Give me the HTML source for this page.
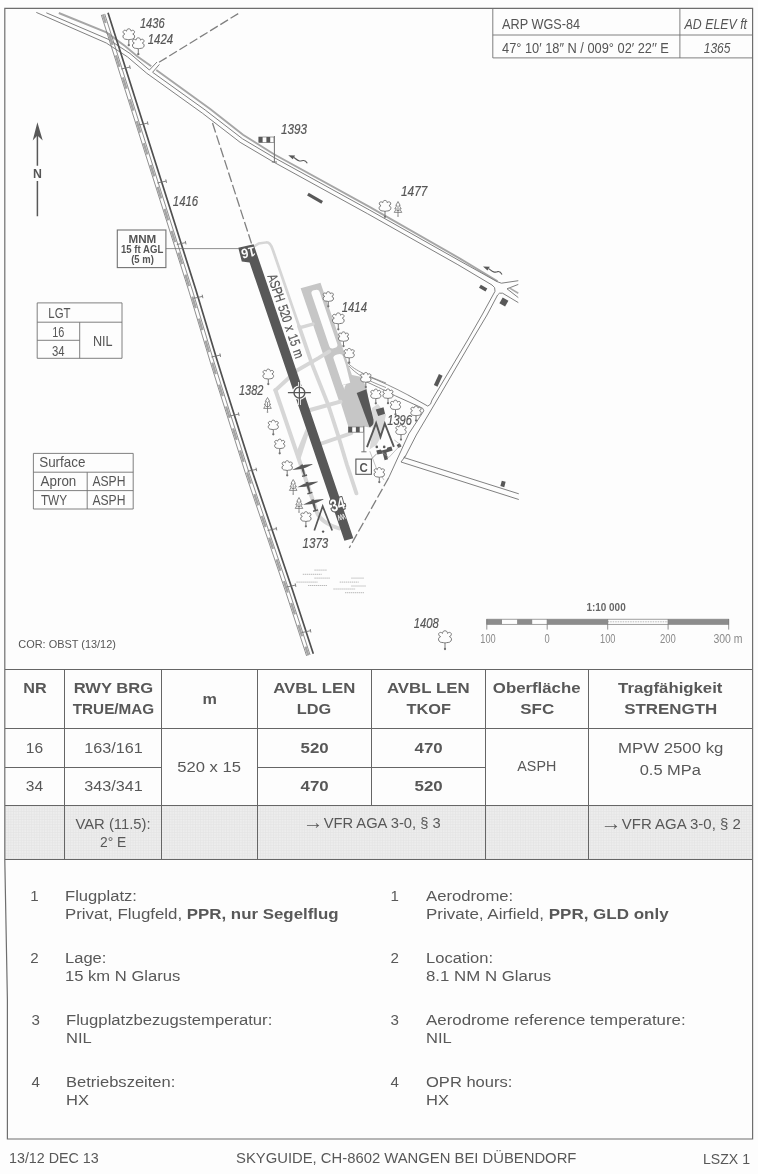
<!DOCTYPE html>
<html lang="de"><head><meta charset="utf-8"><title>LSZX Schänis – Aerodrome chart</title>
<style>
*{box-sizing:border-box;margin:0;padding:0}
html,body{width:758px;height:1174px;background:#fdfdfd;overflow:hidden}
body{font-family:"Liberation Sans",sans-serif;color:#585858;position:relative}
#page{position:absolute;left:0;top:0;width:758px;height:1174px;overflow:hidden;background:#fdfdfd;filter:grayscale(1) blur(0.4px)}
svg#art{position:absolute;left:0;top:0;width:758px;height:1174px}
svg text{font-family:"Liberation Sans",sans-serif}
table.rwy{position:absolute;left:5px;top:669.5px;border-collapse:collapse;table-layout:fixed;width:747.5px;font-size:15.2px;text-align:center}
table.rwy td,table.rwy th{padding:0;vertical-align:middle;font-weight:normal;line-height:20.6px;overflow:visible;white-space:nowrap}
table.rwy th b,table.rwy td b{font-weight:bold}
.sx{display:inline-block;transform-origin:50% 50%;white-space:nowrap}
.note{font-size:13.8px}
table.rwy tr.r34 td{padding-bottom:1.4px}
.ar{font-size:140%;line-height:0;position:relative;top:1px;margin-right:-3.5px}
.list{position:absolute;left:0;top:0;font-size:15.1px;line-height:18.8px}
.list .it{position:absolute;white-space:nowrap}
.list .it .n{position:absolute;left:0;top:0}
.list .it .tx{position:absolute;top:0;white-space:nowrap}
.list .it .tx .sx{transform-origin:0 50%}
.foot{position:absolute;font-size:14.3px;line-height:16px;white-space:nowrap}
.foot .sx{transform-origin:0 50%}
</style></head><body>
<div id="page">
<svg id="art" viewBox="0 0 758 1174" width="758" height="1174">
<defs>
<pattern id="hatch" width="2.6" height="2.6" patternUnits="userSpaceOnUse"><path d="M0 0.5H2.6M0.5 0V2.6" stroke="#e2e2e6" stroke-width="0.6"/></pattern>
</defs>

<polyline points="58.8,13 106.5,32.4 125,46 137.5,56.5 151.3,66.3" fill="none" stroke="#a6a6a6" stroke-width="1.9"/>
<polyline points="156.3,70 210.2,108.9 243,134.8 274,154.3 369.5,206.9 460,258.6 497.6,281.3" fill="none" stroke="#a6a6a6" stroke-width="1.9"/>
<polyline points="46.3,12.8 108.3,39.3 130.0,53.5 149.4,70.0" fill="none" stroke="#727272" stroke-width="0.9"/>
<polyline points="152.6,72.3 205.2,110.0 242.5,138.8 274.0,157.5 369.5,210.0 460.0,261.0 497.0,281.6 501.4,283.2 518.3,280.7" fill="none" stroke="#727272" stroke-width="0.9" stroke-linejoin="round"/>
<polyline points="36.3,12.4 106.3,43.0 127.5,56.9 146.8,73.3 202.7,113.4 240.1,142.3 271.9,161.1 367.5,213.7 457.9,264.7 492,285 494.6,287.6 495,291.3 482,315 467.7,340 432,400 430.5,404.1 427.8,406.1 408,395" fill="none" stroke="#727272" stroke-width="0.9" stroke-linejoin="round"/>
<path d="M149.4,70 L157,62 M152.6,72.3 L159.4,64.4" stroke="#727272" stroke-width="0.9" fill="none"/>
<path d="M159,62.3 L240,12.5" stroke="#808080" stroke-width="1.3" stroke-dasharray="9 3" fill="none"/>
<path d="M507,288.8 L518.3,284.4 M507,288.8 L518.3,297.6" stroke="#727272" stroke-width="0.9" fill="none" stroke-linejoin="round"/>
<path d="M508.9,287.6 L518.3,293.2" stroke="#a9a9a9" stroke-width="1.6" fill="none"/>
<polyline points="518.3,302.6 502.6,293.2 499.5,293.2 497.6,295 487,315 472.1,340 440,395 416.3,435 405.5,456 401,462" fill="none" stroke="#727272" stroke-width="0.9" stroke-linejoin="round"/>
<polyline points="395.3,395.8 419.8,406.9 422.8,408.4 423.8,410.8 408.8,433.8 388.8,477.5" fill="none" stroke="#727272" stroke-width="0.9" stroke-linejoin="round"/>
<path d="M388.8,477.5 L349.2,548" stroke="#808080" stroke-width="1.3" stroke-dasharray="10 3" fill="none"/>
<path d="M405.5,456 L403.8,457.5 L518.8,493.8 M401,462 L518.8,499.5" stroke="#727272" stroke-width="0.9" fill="none" stroke-linejoin="round"/>
<path d="M408,395 C395,388 380,381 367,376" stroke="#727272" stroke-width="0.8" fill="none"/>
<path d="M395.3,395.8 C385,390.5 372,384 362,380" stroke="#727272" stroke-width="0.8" fill="none"/>
<path d="M346.7,361.7 C352,368 360,373 386,383 M349,366 C356,374 366,380 386,387.6" stroke="#727272" stroke-width="0.7" fill="none"/>
<path d="M212.5,123 L251.5,243.5" stroke="#808080" stroke-width="1.3" stroke-dasharray="10 3" fill="none"/>
<rect x="-8.2" y="-1.6" width="16.5" height="3.2" fill="#585858" transform="translate(315.0,198.2) rotate(30)"/>
<rect x="-3.8" y="-1.8" width="7.5" height="3.6" fill="#585858" transform="translate(483.2,288.2) rotate(30)"/>
<rect x="-3.3" y="-3.3" width="6.6" height="6.6" fill="#585858" transform="translate(503.9,302.0) rotate(30)"/>
<rect x="-6.0" y="-2.0" width="12" height="4" fill="#585858" transform="translate(438.2,380.4) rotate(-65)"/>
<rect x="-2.0" y="-2.8" width="4" height="5.5" fill="#585858" transform="translate(503.0,484.0) rotate(15)"/>
<rect x="-1.8" y="-1.8" width="3.6" height="3.6" fill="#585858" transform="translate(399.1,445.6) rotate(-30)"/>
<polyline points="101.3,14.9 189.2,292.1 210.3,362.1 218.1,387.1 245.2,472.5 285.8,592.2 306.6,655.9" fill="none" stroke="#727272" stroke-width="0.8"/>
<polyline points="104.7,13.9 192.6,291.0 213.7,361.0 221.5,386.1 248.6,471.4 289.2,591.1 310.0,654.8" fill="none" stroke="#727272" stroke-width="0.8"/>
<polyline points="102.9,14.4 190.8,291.6 211.9,361.6 219.7,386.6 246.9,472.0 287.5,591.7 308.3,655.3" fill="none" stroke="#a4a4a4" stroke-width="2.3" stroke-dasharray="12 11" stroke-dashoffset="3"/>
<polyline points="108.0,12.8 195.9,290.0 217.0,360.0 224.8,385.0 251.9,470.3 292.5,590.0 313.3,653.7" fill="none" stroke="#505050" stroke-width="1.7"/>
<path d="M121.1,69.0 L129.9,67.1 M129.6,65.4 L130.3,68.9" stroke="#727272" stroke-width="0.9" fill="none"/>
<path d="M138.9,125.0 L147.7,123.1 M147.4,121.4 L148.1,124.9" stroke="#727272" stroke-width="0.9" fill="none"/>
<path d="M157.3,183.0 L166.1,181.1 M165.8,179.4 L166.5,182.9" stroke="#727272" stroke-width="0.9" fill="none"/>
<path d="M176.8,244.5 L185.6,242.6 M185.3,240.9 L186.0,244.4" stroke="#727272" stroke-width="0.9" fill="none"/>
<path d="M193.7,298.3 L202.5,296.4 M202.2,294.7 L202.9,298.2" stroke="#727272" stroke-width="0.9" fill="none"/>
<path d="M211.4,357.0 L220.2,355.1 M219.9,353.4 L220.6,356.9" stroke="#727272" stroke-width="0.9" fill="none"/>
<path d="M229.9,416.0 L238.7,414.1 M238.4,412.4 L239.1,415.9" stroke="#727272" stroke-width="0.9" fill="none"/>
<path d="M247.5,471.3 L256.3,469.4 M256.0,467.7 L256.7,471.2" stroke="#727272" stroke-width="0.9" fill="none"/>
<path d="M267.6,530.5 L276.4,528.6 M276.1,526.9 L276.8,530.4" stroke="#727272" stroke-width="0.9" fill="none"/>
<path d="M286.7,587.0 L295.5,585.1 M295.2,583.4 L295.9,586.9" stroke="#727272" stroke-width="0.9" fill="none"/>
<path d="M301.7,632.6 L310.5,630.7 M310.2,629.0 L310.9,632.5" stroke="#727272" stroke-width="0.9" fill="none"/>
<polygon points="372,408 378,404 386,414.5 381.5,436 376.5,445 369.5,449.5 372.5,431" fill="#dadade"/>
<g transform="matrix(0.3251 0.9563 1.0634 -0.2924 249.05 245.9)" fill="none" stroke-linecap="round" stroke-linejoin="round">
<polygon points="160,41 150,50 155,58.5 168,59.5 206,52 203,46 199,32.6 175.6,33" fill="#c6c6ca" stroke="none"/>
<path d="M54,32 H172 V40 H158 Q160,48 150,50.7 H54 Z" fill="#c6c6ca" stroke="none"/>
<rect x="59.5" y="39.7" width="60.5" height="7.5" rx="3" ry="3" fill="#fdfdfd" stroke="none"/>
<path d="M130,39.7 H157.5 L157.5,47 L139,48.5 H130 Q127,48.5 127,44 Q127,39.7 130,39.7 Z" fill="#fdfdfd" stroke="none"/>
<path d="M1.5,5.2 L0.3,9 L1.2,16 Q2,19.3 10,19.3 L92,19.5" stroke="#d6d6da" stroke-width="2.5"/>
<path d="M90,19.5 L130,19.6 L172,21.6 L205,21.2 L235,20.2 L265,20" stroke="#d6d6da" stroke-width="3.5"/>
<path d="M91.5,20 V32" stroke="#d6d6da" stroke-width="3.4"/>
<path d="M145,-19.5 L131.6,5 L125.5,27 L122,38" stroke="#d6d6da" stroke-width="3.8"/>
<path d="M150,-19.5 Q144,-19.5 145,-19.5 L273,-19.5 Q284,-19 294,-5" stroke="#d6d6da" stroke-width="3.7"/>
<path d="M209.5,-19.5 L219.5,-19.5 L196.5,-4.4 L189.5,-4.4 Z" fill="#d6d6da" stroke="none"/>
<path d="M173,4.5 V33" stroke="#d6d6da" stroke-width="4"/>
<path d="M208,4.5 L206,33" stroke="#d6d6da" stroke-width="3.9"/>
<path d="M-1,-9.8 L-0.5,4.4 L307,4.2 L307,-4.2 L16,-4.4 L13,-10.8 Z" fill="#585858" stroke="none"/>
<path d="M286,-3 L281,-2 L286,-1 M286,-0.8 L281,0.2 L286,1.2 M286,1.4 L281,2.4 L286,3.4" stroke="#f4f4f4" stroke-width="0.7"/>
<path d="M168.9,49.6 L168,58.9 L199,56.2 Q205,55 205.2,50.5 Z" fill="#585858" stroke="none"/>
<polygon points="189.8,61.1 189.6,68.5 196.2,67.9 196.7,61.3" fill="#585858" stroke="none"/>
</g>
<circle cx="299.4" cy="392.7" r="5.4" fill="#fdfdfd" stroke="#fdfdfd" stroke-width="3.6"/><path d="M287.9,392.7H310.9M299.4,381.9V405.0" stroke="#fdfdfd" stroke-width="2.8"/><circle cx="299.4" cy="392.7" r="5.4" fill="none" stroke="#585858" stroke-width="1.4"/><path d="M287.9,392.7H310.9M299.4,381.9V405.0" stroke="#585858" stroke-width="1.2"/>
<text transform="translate(267.3,275.9) rotate(71.2)" font-size="13.8" textLength="88" lengthAdjust="spacingAndGlyphs" fill="#555555" stroke="#555555" stroke-width="0.25" word-spacing="1.5">ASPH 520 x 15 m</text>
<text transform="translate(248.3,252.7) rotate(168)" font-size="13.6" font-weight="bold" x="-7" textLength="14" lengthAdjust="spacingAndGlyphs" fill="#fdfdfd" y="4.8">16</text>
<text transform="translate(337.3,504.3) rotate(-16)" font-size="17" font-weight="bold" x="-7.3" textLength="14.6" lengthAdjust="spacingAndGlyphs" fill="#fdfdfd" stroke="#585858" stroke-width="2.4" paint-order="stroke" stroke-linejoin="round" y="6">34</text>
<rect x="117.3" y="230" width="48.6" height="37.6" fill="#fdfdfd" stroke="#727272" stroke-width="1.1"/>
<line x1="165.9" y1="248.6" x2="239" y2="248.6" stroke="#727272" stroke-width="0.8"/>
<text x="128.5" y="242.7" font-size="10.6" textLength="27.8" lengthAdjust="spacingAndGlyphs" fill="#555555" style="font-weight:bold;" >MNM</text>
<text x="121.0" y="253.2" font-size="10.6" textLength="42.3" lengthAdjust="spacingAndGlyphs" fill="#555555" style="font-weight:bold;" >15 ft AGL</text>
<text x="131.2" y="263.4" font-size="10.6" textLength="22.6" lengthAdjust="spacingAndGlyphs" fill="#555555" style="font-weight:bold;" >(5 m)</text>
<g transform="translate(302.2,467.1) rotate(-15.5)"><path d="M-10.6,0 L-3,-1.5 L3,-1.5 L10.6,-0.3 L10.6,0.3 L3,1.5 L-3,1.5 Z" fill="#585858"/><path d="M-1.3,-2.6 L1.3,-2.6 L1.1,4 L0.6,9.5 L-0.6,9.5 L-1.1,4 Z" fill="#585858"/><path d="M-2.6,8.2 H2.6 V9.6 H-2.6 Z" fill="#585858"/></g>
<g transform="translate(307.5,484.5) rotate(-15.5)"><path d="M-10.6,0 L-3,-1.5 L3,-1.5 L10.6,-0.3 L10.6,0.3 L3,1.5 L-3,1.5 Z" fill="#585858"/><path d="M-1.3,-2.6 L1.3,-2.6 L1.1,4 L0.6,9.5 L-0.6,9.5 L-1.1,4 Z" fill="#585858"/><path d="M-2.6,8.2 H2.6 V9.6 H-2.6 Z" fill="#585858"/></g>
<g transform="translate(313.2,502.0) rotate(-15.5)"><path d="M-10.6,0 L-3,-1.5 L3,-1.5 L10.6,-0.3 L10.6,0.3 L3,1.5 L-3,1.5 Z" fill="#585858"/><path d="M-1.3,-2.6 L1.3,-2.6 L1.1,4 L0.6,9.5 L-0.6,9.5 L-1.1,4 Z" fill="#585858"/><path d="M-2.6,8.2 H2.6 V9.6 H-2.6 Z" fill="#585858"/></g>
<path d="M314.3,530.5 L322.7,506.2 L332.2,530.5" fill="none" stroke="#585858" stroke-width="1.7" stroke-linejoin="miter"/><circle cx="323.1" cy="531.6" r="1.2" fill="#585858"/>
<path d="M367,447.2 L376.1,423.1 L380.5,436.9 L384.8,423.5 L393.9,446.8" fill="none" stroke="#585858" stroke-width="1.9" stroke-linejoin="miter"/><circle cx="376.8" cy="446.9" r="1.3" fill="#585858"/><circle cx="384.2" cy="446.9" r="1.3" fill="#585858"/>
<path d="M376.3,450.6 L380.6,449.4 L381.6,450.6 L386.6,449.2 L387.4,447.6 L391.4,446.4 L392.6,450.4 L386.4,452.6 L388,459.2 L384.6,460.2 L382.8,453.6 L377.4,454.6 Z" fill="#585858"/>
<rect x="355.9" y="459.1" width="15.5" height="15.2" fill="#fdfdfd" stroke="#585858" stroke-width="1.1"/><text x="359.5" y="471.8" font-size="12.7" textLength="8.3" lengthAdjust="spacingAndGlyphs" fill="#555555" style="font-weight:bold;" >C</text>
<path d="M371.4,459.1 L376.8,453.6" stroke="#727272" stroke-width="0.7"/>
<path d="M369.8,451.2 L376.5,468.6 M388.8,457.5 L400.7,444.8 L394.3,440 M376.5,468.6 L384,480 M388.8,457.5 L382,452" stroke="#9a9a9a" stroke-width="0.6" fill="none"/>
<rect x="258.8" y="137.0" width="15.2" height="5.5" fill="#fdfdfd" stroke="#727272" stroke-width="0.7"/><rect x="258.8" y="137.0" width="3.8" height="5.5" fill="#585858"/><rect x="266.4" y="137.0" width="3.8" height="5.5" fill="#585858"/><path d="M274.4,136.0V162.0M271.8,162.0H277.0" stroke="#727272" stroke-width="1" fill="none"/>
<rect x="348.4" y="426.9" width="15.1" height="5.3" fill="#fdfdfd" stroke="#727272" stroke-width="0.7"/><rect x="348.4" y="426.9" width="3.8" height="5.3" fill="#585858"/><rect x="355.9" y="426.9" width="3.8" height="5.3" fill="#585858"/><path d="M363.9,425.9V451.8M361.3,451.8H366.5" stroke="#727272" stroke-width="1" fill="none"/>
<g transform="translate(307.3,163.3) rotate(0) scale(1)"><path d="M0,0 C-1.2,-2.2 -2.8,-3 -4.1,-2.8 C-5.6,-2.6 -6.4,-2 -7.8,-2.3 C-9.8,-2.8 -11.5,-4.4 -13.3,-5.8" fill="none" stroke="#585858" stroke-width="1.1"/><path d="M-19,-8 L-12.2,-7.7 L-14.5,-4 Z" fill="#585858"/></g>
<g transform="translate(502.0,274.4) rotate(0) scale(1)"><path d="M0,0 C-1.2,-2.2 -2.8,-3 -4.1,-2.8 C-5.6,-2.6 -6.4,-2 -7.8,-2.3 C-9.8,-2.8 -11.5,-4.4 -13.3,-5.8" fill="none" stroke="#585858" stroke-width="1.1"/><path d="M-19,-8 L-12.2,-7.7 L-14.5,-4 Z" fill="#585858"/></g>
<g transform="translate(128.8,34.4) scale(0.9)"><path d="M0,6 C-2,5.2 -4.5,6 -5.8,4.2 C-7,2.6 -6.8,0.6 -4.4,-0.4 C-6.6,-1 -7,-3.6 -5.4,-4.4 C-4.4,-5 -3.2,-4.4 -2.5,-3.6 C-2.4,-5.6 -1.2,-6.2 0,-6.2 C1.2,-6.2 2.4,-5.6 2.5,-3.6 C3.2,-4.4 4.4,-5 5.4,-4.4 C7,-3.6 6.6,-1 4.4,-0.4 C6.8,0.6 7,2.6 5.8,4.2 C4.5,6 2,5.2 0,6 Z" fill="#fdfdfd" stroke="#727272" stroke-width="1.06" stroke-linejoin="round"/><path d="M0,6V11.5" stroke="#727272" stroke-width="1.06"/><circle cx="0" cy="12.0" r="1.28" fill="#727272"/></g>
<g transform="translate(138.3,43.4) scale(0.9)"><path d="M0,6 C-2,5.2 -4.5,6 -5.8,4.2 C-7,2.6 -6.8,0.6 -4.4,-0.4 C-6.6,-1 -7,-3.6 -5.4,-4.4 C-4.4,-5 -3.2,-4.4 -2.5,-3.6 C-2.4,-5.6 -1.2,-6.2 0,-6.2 C1.2,-6.2 2.4,-5.6 2.5,-3.6 C3.2,-4.4 4.4,-5 5.4,-4.4 C7,-3.6 6.6,-1 4.4,-0.4 C6.8,0.6 7,2.6 5.8,4.2 C4.5,6 2,5.2 0,6 Z" fill="#fdfdfd" stroke="#727272" stroke-width="1.06" stroke-linejoin="round"/><path d="M0,6V11.5" stroke="#727272" stroke-width="1.06"/><circle cx="0" cy="12.0" r="1.28" fill="#727272"/></g>
<g transform="translate(385.0,206.0) scale(0.9)"><path d="M0,6 C-2,5.2 -4.5,6 -5.8,4.2 C-7,2.6 -6.8,0.6 -4.4,-0.4 C-6.6,-1 -7,-3.6 -5.4,-4.4 C-4.4,-5 -3.2,-4.4 -2.5,-3.6 C-2.4,-5.6 -1.2,-6.2 0,-6.2 C1.2,-6.2 2.4,-5.6 2.5,-3.6 C3.2,-4.4 4.4,-5 5.4,-4.4 C7,-3.6 6.6,-1 4.4,-0.4 C6.8,0.6 7,2.6 5.8,4.2 C4.5,6 2,5.2 0,6 Z" fill="#fdfdfd" stroke="#727272" stroke-width="1.06" stroke-linejoin="round"/><path d="M0,6V11.5" stroke="#727272" stroke-width="1.06"/><circle cx="0" cy="12.0" r="1.28" fill="#727272"/></g>
<g transform="translate(328.3,296.7) scale(0.8)"><path d="M0,6 C-2,5.2 -4.5,6 -5.8,4.2 C-7,2.6 -6.8,0.6 -4.4,-0.4 C-6.6,-1 -7,-3.6 -5.4,-4.4 C-4.4,-5 -3.2,-4.4 -2.5,-3.6 C-2.4,-5.6 -1.2,-6.2 0,-6.2 C1.2,-6.2 2.4,-5.6 2.5,-3.6 C3.2,-4.4 4.4,-5 5.4,-4.4 C7,-3.6 6.6,-1 4.4,-0.4 C6.8,0.6 7,2.6 5.8,4.2 C4.5,6 2,5.2 0,6 Z" fill="#fdfdfd" stroke="#727272" stroke-width="1.19" stroke-linejoin="round"/><path d="M0,6V11.5" stroke="#727272" stroke-width="1.19"/><circle cx="0" cy="12.0" r="1.44" fill="#727272"/></g>
<g transform="translate(338.3,318.5) scale(0.9)"><path d="M0,6 C-2,5.2 -4.5,6 -5.8,4.2 C-7,2.6 -6.8,0.6 -4.4,-0.4 C-6.6,-1 -7,-3.6 -5.4,-4.4 C-4.4,-5 -3.2,-4.4 -2.5,-3.6 C-2.4,-5.6 -1.2,-6.2 0,-6.2 C1.2,-6.2 2.4,-5.6 2.5,-3.6 C3.2,-4.4 4.4,-5 5.4,-4.4 C7,-3.6 6.6,-1 4.4,-0.4 C6.8,0.6 7,2.6 5.8,4.2 C4.5,6 2,5.2 0,6 Z" fill="#fdfdfd" stroke="#727272" stroke-width="1.06" stroke-linejoin="round"/><path d="M0,6V11.5" stroke="#727272" stroke-width="1.06"/><circle cx="0" cy="12.0" r="1.28" fill="#727272"/></g>
<g transform="translate(343.5,336.7) scale(0.78)"><path d="M0,6 C-2,5.2 -4.5,6 -5.8,4.2 C-7,2.6 -6.8,0.6 -4.4,-0.4 C-6.6,-1 -7,-3.6 -5.4,-4.4 C-4.4,-5 -3.2,-4.4 -2.5,-3.6 C-2.4,-5.6 -1.2,-6.2 0,-6.2 C1.2,-6.2 2.4,-5.6 2.5,-3.6 C3.2,-4.4 4.4,-5 5.4,-4.4 C7,-3.6 6.6,-1 4.4,-0.4 C6.8,0.6 7,2.6 5.8,4.2 C4.5,6 2,5.2 0,6 Z" fill="#fdfdfd" stroke="#727272" stroke-width="1.22" stroke-linejoin="round"/><path d="M0,6V11.5" stroke="#727272" stroke-width="1.22"/><circle cx="0" cy="12.0" r="1.47" fill="#727272"/></g>
<g transform="translate(349.2,353.3) scale(0.78)"><path d="M0,6 C-2,5.2 -4.5,6 -5.8,4.2 C-7,2.6 -6.8,0.6 -4.4,-0.4 C-6.6,-1 -7,-3.6 -5.4,-4.4 C-4.4,-5 -3.2,-4.4 -2.5,-3.6 C-2.4,-5.6 -1.2,-6.2 0,-6.2 C1.2,-6.2 2.4,-5.6 2.5,-3.6 C3.2,-4.4 4.4,-5 5.4,-4.4 C7,-3.6 6.6,-1 4.4,-0.4 C6.8,0.6 7,2.6 5.8,4.2 C4.5,6 2,5.2 0,6 Z" fill="#fdfdfd" stroke="#727272" stroke-width="1.22" stroke-linejoin="round"/><path d="M0,6V11.5" stroke="#727272" stroke-width="1.22"/><circle cx="0" cy="12.0" r="1.47" fill="#727272"/></g>
<g transform="translate(365.8,377.5) scale(0.8)"><path d="M0,6 C-2,5.2 -4.5,6 -5.8,4.2 C-7,2.6 -6.8,0.6 -4.4,-0.4 C-6.6,-1 -7,-3.6 -5.4,-4.4 C-4.4,-5 -3.2,-4.4 -2.5,-3.6 C-2.4,-5.6 -1.2,-6.2 0,-6.2 C1.2,-6.2 2.4,-5.6 2.5,-3.6 C3.2,-4.4 4.4,-5 5.4,-4.4 C7,-3.6 6.6,-1 4.4,-0.4 C6.8,0.6 7,2.6 5.8,4.2 C4.5,6 2,5.2 0,6 Z" fill="#fdfdfd" stroke="#727272" stroke-width="1.19" stroke-linejoin="round"/><path d="M0,6V11.5" stroke="#727272" stroke-width="1.19"/><circle cx="0" cy="12.0" r="1.44" fill="#727272"/></g>
<g transform="translate(375.8,394.0) scale(0.78)"><path d="M0,6 C-2,5.2 -4.5,6 -5.8,4.2 C-7,2.6 -6.8,0.6 -4.4,-0.4 C-6.6,-1 -7,-3.6 -5.4,-4.4 C-4.4,-5 -3.2,-4.4 -2.5,-3.6 C-2.4,-5.6 -1.2,-6.2 0,-6.2 C1.2,-6.2 2.4,-5.6 2.5,-3.6 C3.2,-4.4 4.4,-5 5.4,-4.4 C7,-3.6 6.6,-1 4.4,-0.4 C6.8,0.6 7,2.6 5.8,4.2 C4.5,6 2,5.2 0,6 Z" fill="#fdfdfd" stroke="#727272" stroke-width="1.22" stroke-linejoin="round"/><path d="M0,6V11.5" stroke="#727272" stroke-width="1.22"/><circle cx="0" cy="12.0" r="1.47" fill="#727272"/></g>
<g transform="translate(388.0,393.8) scale(0.78)"><path d="M0,6 C-2,5.2 -4.5,6 -5.8,4.2 C-7,2.6 -6.8,0.6 -4.4,-0.4 C-6.6,-1 -7,-3.6 -5.4,-4.4 C-4.4,-5 -3.2,-4.4 -2.5,-3.6 C-2.4,-5.6 -1.2,-6.2 0,-6.2 C1.2,-6.2 2.4,-5.6 2.5,-3.6 C3.2,-4.4 4.4,-5 5.4,-4.4 C7,-3.6 6.6,-1 4.4,-0.4 C6.8,0.6 7,2.6 5.8,4.2 C4.5,6 2,5.2 0,6 Z" fill="#fdfdfd" stroke="#727272" stroke-width="1.22" stroke-linejoin="round"/><path d="M0,6V11.5" stroke="#727272" stroke-width="1.22"/><circle cx="0" cy="12.0" r="1.47" fill="#727272"/></g>
<g transform="translate(395.5,405.0) scale(0.78)"><path d="M0,6 C-2,5.2 -4.5,6 -5.8,4.2 C-7,2.6 -6.8,0.6 -4.4,-0.4 C-6.6,-1 -7,-3.6 -5.4,-4.4 C-4.4,-5 -3.2,-4.4 -2.5,-3.6 C-2.4,-5.6 -1.2,-6.2 0,-6.2 C1.2,-6.2 2.4,-5.6 2.5,-3.6 C3.2,-4.4 4.4,-5 5.4,-4.4 C7,-3.6 6.6,-1 4.4,-0.4 C6.8,0.6 7,2.6 5.8,4.2 C4.5,6 2,5.2 0,6 Z" fill="#fdfdfd" stroke="#727272" stroke-width="1.22" stroke-linejoin="round"/><path d="M0,6V11.5" stroke="#727272" stroke-width="1.22"/><circle cx="0" cy="12.0" r="1.47" fill="#727272"/></g>
<g transform="translate(416.0,411.0) scale(0.8)"><path d="M0,6 C-2,5.2 -4.5,6 -5.8,4.2 C-7,2.6 -6.8,0.6 -4.4,-0.4 C-6.6,-1 -7,-3.6 -5.4,-4.4 C-4.4,-5 -3.2,-4.4 -2.5,-3.6 C-2.4,-5.6 -1.2,-6.2 0,-6.2 C1.2,-6.2 2.4,-5.6 2.5,-3.6 C3.2,-4.4 4.4,-5 5.4,-4.4 C7,-3.6 6.6,-1 4.4,-0.4 C6.8,0.6 7,2.6 5.8,4.2 C4.5,6 2,5.2 0,6 Z" fill="#fdfdfd" stroke="#727272" stroke-width="1.19" stroke-linejoin="round"/><path d="M0,6V11.5" stroke="#727272" stroke-width="1.19"/><circle cx="0" cy="12.0" r="1.44" fill="#727272"/></g>
<g transform="translate(401.0,430.0) scale(0.8)"><path d="M0,6 C-2,5.2 -4.5,6 -5.8,4.2 C-7,2.6 -6.8,0.6 -4.4,-0.4 C-6.6,-1 -7,-3.6 -5.4,-4.4 C-4.4,-5 -3.2,-4.4 -2.5,-3.6 C-2.4,-5.6 -1.2,-6.2 0,-6.2 C1.2,-6.2 2.4,-5.6 2.5,-3.6 C3.2,-4.4 4.4,-5 5.4,-4.4 C7,-3.6 6.6,-1 4.4,-0.4 C6.8,0.6 7,2.6 5.8,4.2 C4.5,6 2,5.2 0,6 Z" fill="#fdfdfd" stroke="#727272" stroke-width="1.19" stroke-linejoin="round"/><path d="M0,6V11.5" stroke="#727272" stroke-width="1.19"/><circle cx="0" cy="12.0" r="1.44" fill="#727272"/></g>
<g transform="translate(379.3,472.5) scale(0.8)"><path d="M0,6 C-2,5.2 -4.5,6 -5.8,4.2 C-7,2.6 -6.8,0.6 -4.4,-0.4 C-6.6,-1 -7,-3.6 -5.4,-4.4 C-4.4,-5 -3.2,-4.4 -2.5,-3.6 C-2.4,-5.6 -1.2,-6.2 0,-6.2 C1.2,-6.2 2.4,-5.6 2.5,-3.6 C3.2,-4.4 4.4,-5 5.4,-4.4 C7,-3.6 6.6,-1 4.4,-0.4 C6.8,0.6 7,2.6 5.8,4.2 C4.5,6 2,5.2 0,6 Z" fill="#fdfdfd" stroke="#727272" stroke-width="1.19" stroke-linejoin="round"/><path d="M0,6V11.5" stroke="#727272" stroke-width="1.19"/><circle cx="0" cy="12.0" r="1.44" fill="#727272"/></g>
<g transform="translate(268.3,374.2) scale(0.82)"><path d="M0,6 C-2,5.2 -4.5,6 -5.8,4.2 C-7,2.6 -6.8,0.6 -4.4,-0.4 C-6.6,-1 -7,-3.6 -5.4,-4.4 C-4.4,-5 -3.2,-4.4 -2.5,-3.6 C-2.4,-5.6 -1.2,-6.2 0,-6.2 C1.2,-6.2 2.4,-5.6 2.5,-3.6 C3.2,-4.4 4.4,-5 5.4,-4.4 C7,-3.6 6.6,-1 4.4,-0.4 C6.8,0.6 7,2.6 5.8,4.2 C4.5,6 2,5.2 0,6 Z" fill="#fdfdfd" stroke="#727272" stroke-width="1.16" stroke-linejoin="round"/><path d="M0,6V11.5" stroke="#727272" stroke-width="1.16"/><circle cx="0" cy="12.0" r="1.40" fill="#727272"/></g>
<g transform="translate(273.3,425.0) scale(0.78)"><path d="M0,6 C-2,5.2 -4.5,6 -5.8,4.2 C-7,2.6 -6.8,0.6 -4.4,-0.4 C-6.6,-1 -7,-3.6 -5.4,-4.4 C-4.4,-5 -3.2,-4.4 -2.5,-3.6 C-2.4,-5.6 -1.2,-6.2 0,-6.2 C1.2,-6.2 2.4,-5.6 2.5,-3.6 C3.2,-4.4 4.4,-5 5.4,-4.4 C7,-3.6 6.6,-1 4.4,-0.4 C6.8,0.6 7,2.6 5.8,4.2 C4.5,6 2,5.2 0,6 Z" fill="#fdfdfd" stroke="#727272" stroke-width="1.22" stroke-linejoin="round"/><path d="M0,6V11.5" stroke="#727272" stroke-width="1.22"/><circle cx="0" cy="12.0" r="1.47" fill="#727272"/></g>
<g transform="translate(279.7,444.0) scale(0.78)"><path d="M0,6 C-2,5.2 -4.5,6 -5.8,4.2 C-7,2.6 -6.8,0.6 -4.4,-0.4 C-6.6,-1 -7,-3.6 -5.4,-4.4 C-4.4,-5 -3.2,-4.4 -2.5,-3.6 C-2.4,-5.6 -1.2,-6.2 0,-6.2 C1.2,-6.2 2.4,-5.6 2.5,-3.6 C3.2,-4.4 4.4,-5 5.4,-4.4 C7,-3.6 6.6,-1 4.4,-0.4 C6.8,0.6 7,2.6 5.8,4.2 C4.5,6 2,5.2 0,6 Z" fill="#fdfdfd" stroke="#727272" stroke-width="1.22" stroke-linejoin="round"/><path d="M0,6V11.5" stroke="#727272" stroke-width="1.22"/><circle cx="0" cy="12.0" r="1.47" fill="#727272"/></g>
<g transform="translate(287.2,465.7) scale(0.8)"><path d="M0,6 C-2,5.2 -4.5,6 -5.8,4.2 C-7,2.6 -6.8,0.6 -4.4,-0.4 C-6.6,-1 -7,-3.6 -5.4,-4.4 C-4.4,-5 -3.2,-4.4 -2.5,-3.6 C-2.4,-5.6 -1.2,-6.2 0,-6.2 C1.2,-6.2 2.4,-5.6 2.5,-3.6 C3.2,-4.4 4.4,-5 5.4,-4.4 C7,-3.6 6.6,-1 4.4,-0.4 C6.8,0.6 7,2.6 5.8,4.2 C4.5,6 2,5.2 0,6 Z" fill="#fdfdfd" stroke="#727272" stroke-width="1.19" stroke-linejoin="round"/><path d="M0,6V11.5" stroke="#727272" stroke-width="1.19"/><circle cx="0" cy="12.0" r="1.44" fill="#727272"/></g>
<g transform="translate(305.9,516.7) scale(0.8)"><path d="M0,6 C-2,5.2 -4.5,6 -5.8,4.2 C-7,2.6 -6.8,0.6 -4.4,-0.4 C-6.6,-1 -7,-3.6 -5.4,-4.4 C-4.4,-5 -3.2,-4.4 -2.5,-3.6 C-2.4,-5.6 -1.2,-6.2 0,-6.2 C1.2,-6.2 2.4,-5.6 2.5,-3.6 C3.2,-4.4 4.4,-5 5.4,-4.4 C7,-3.6 6.6,-1 4.4,-0.4 C6.8,0.6 7,2.6 5.8,4.2 C4.5,6 2,5.2 0,6 Z" fill="#fdfdfd" stroke="#727272" stroke-width="1.19" stroke-linejoin="round"/><path d="M0,6V11.5" stroke="#727272" stroke-width="1.19"/><circle cx="0" cy="12.0" r="1.44" fill="#727272"/></g>
<g transform="translate(445.0,637.0) scale(1.0)"><path d="M0,6 C-2,5.2 -4.5,6 -5.8,4.2 C-7,2.6 -6.8,0.6 -4.4,-0.4 C-6.6,-1 -7,-3.6 -5.4,-4.4 C-4.4,-5 -3.2,-4.4 -2.5,-3.6 C-2.4,-5.6 -1.2,-6.2 0,-6.2 C1.2,-6.2 2.4,-5.6 2.5,-3.6 C3.2,-4.4 4.4,-5 5.4,-4.4 C7,-3.6 6.6,-1 4.4,-0.4 C6.8,0.6 7,2.6 5.8,4.2 C4.5,6 2,5.2 0,6 Z" fill="#fdfdfd" stroke="#727272" stroke-width="0.95" stroke-linejoin="round"/><path d="M0,6V11.5" stroke="#727272" stroke-width="0.95"/><circle cx="0" cy="12.0" r="1.15" fill="#727272"/></g>
<g transform="translate(398.0,209.0) scale(1.0)"><path d="M0,-7.5 L-2.2,-3.6 L-1.1,-3.6 L-3.2,-0.2 L-1.6,-0.2 L-3.8,3.4 L3.8,3.4 L1.6,-0.2 L3.2,-0.2 L1.1,-3.6 L2.2,-3.6 Z" fill="#fdfdfd" stroke="#727272" stroke-width="0.8" stroke-linejoin="round"/><path d="M0,-3V6.2M-1.5,1.5H1.5" stroke="#727272" stroke-width="0.8"/><circle cx="0" cy="7" r="0.8" fill="#727272"/></g>
<g transform="translate(267.5,405.0) scale(1.0)"><path d="M0,-7.5 L-2.2,-3.6 L-1.1,-3.6 L-3.2,-0.2 L-1.6,-0.2 L-3.8,3.4 L3.8,3.4 L1.6,-0.2 L3.2,-0.2 L1.1,-3.6 L2.2,-3.6 Z" fill="#fdfdfd" stroke="#727272" stroke-width="0.8" stroke-linejoin="round"/><path d="M0,-3V6.2M-1.5,1.5H1.5" stroke="#727272" stroke-width="0.8"/><circle cx="0" cy="7" r="0.8" fill="#727272"/></g>
<g transform="translate(293.2,487.0) scale(1.0)"><path d="M0,-7.5 L-2.2,-3.6 L-1.1,-3.6 L-3.2,-0.2 L-1.6,-0.2 L-3.8,3.4 L3.8,3.4 L1.6,-0.2 L3.2,-0.2 L1.1,-3.6 L2.2,-3.6 Z" fill="#fdfdfd" stroke="#727272" stroke-width="0.8" stroke-linejoin="round"/><path d="M0,-3V6.2M-1.5,1.5H1.5" stroke="#727272" stroke-width="0.8"/><circle cx="0" cy="7" r="0.8" fill="#727272"/></g>
<g transform="translate(299.0,505.0) scale(1.0)"><path d="M0,-7.5 L-2.2,-3.6 L-1.1,-3.6 L-3.2,-0.2 L-1.6,-0.2 L-3.8,3.4 L3.8,3.4 L1.6,-0.2 L3.2,-0.2 L1.1,-3.6 L2.2,-3.6 Z" fill="#fdfdfd" stroke="#727272" stroke-width="0.8" stroke-linejoin="round"/><path d="M0,-3V6.2M-1.5,1.5H1.5" stroke="#727272" stroke-width="0.8"/><circle cx="0" cy="7" r="0.8" fill="#727272"/></g>
<text x="139.9" y="27.5" font-size="13.8" textLength="24.8" lengthAdjust="spacingAndGlyphs" fill="#555555" style="font-style:italic;" stroke="#555555" stroke-width="0.18">1436</text>
<text x="147.8" y="44.4" font-size="13.8" textLength="25.3" lengthAdjust="spacingAndGlyphs" fill="#555555" style="font-style:italic;" stroke="#555555" stroke-width="0.18">1424</text>
<text x="281.0" y="133.8" font-size="13.8" textLength="26.0" lengthAdjust="spacingAndGlyphs" fill="#555555" style="font-style:italic;" stroke="#555555" stroke-width="0.18">1393</text>
<text x="401.0" y="195.5" font-size="13.8" textLength="26.5" lengthAdjust="spacingAndGlyphs" fill="#555555" style="font-style:italic;" stroke="#555555" stroke-width="0.18">1477</text>
<text x="172.8" y="205.8" font-size="13.8" textLength="25.4" lengthAdjust="spacingAndGlyphs" fill="#555555" style="font-style:italic;" stroke="#555555" stroke-width="0.18">1416</text>
<text x="341.7" y="311.7" font-size="13.8" textLength="25.3" lengthAdjust="spacingAndGlyphs" fill="#555555" style="font-style:italic;" stroke="#555555" stroke-width="0.18">1414</text>
<text x="239.0" y="394.9" font-size="13.8" textLength="24.4" lengthAdjust="spacingAndGlyphs" fill="#555555" style="font-style:italic;" stroke="#555555" stroke-width="0.18">1382</text>
<text x="387.2" y="424.6" font-size="13.8" textLength="24.8" lengthAdjust="spacingAndGlyphs" fill="#555555" style="font-style:italic;" stroke="#555555" stroke-width="0.18">1396</text>
<text x="302.5" y="548.3" font-size="13.8" textLength="25.8" lengthAdjust="spacingAndGlyphs" fill="#555555" style="font-style:italic;" stroke="#555555" stroke-width="0.18">1373</text>
<text x="413.8" y="628.3" font-size="13.8" textLength="25.1" lengthAdjust="spacingAndGlyphs" fill="#555555" style="font-style:italic;" stroke="#555555" stroke-width="0.18">1408</text>
<line x1="314.4" y1="570.1" x2="327" y2="570.1" stroke="#9c9c9c" stroke-width="0.7" stroke-dasharray="1.4 0.6"/>
<line x1="302.8" y1="574.3" x2="321.7" y2="574.3" stroke="#9c9c9c" stroke-width="0.7" stroke-dasharray="1.4 0.6"/>
<line x1="314.4" y1="578.1" x2="330.2" y2="578.1" stroke="#9c9c9c" stroke-width="0.7" stroke-dasharray="1.4 0.6"/>
<line x1="296.4" y1="582.1" x2="317.5" y2="582.1" stroke="#9c9c9c" stroke-width="0.7" stroke-dasharray="1.4 0.6"/>
<line x1="308" y1="585.5" x2="327" y2="585.5" stroke="#9c9c9c" stroke-width="0.7" stroke-dasharray="1.4 0.6"/>
<line x1="351.3" y1="578.1" x2="364" y2="578.1" stroke="#9c9c9c" stroke-width="0.7" stroke-dasharray="1.4 0.6"/>
<line x1="339.7" y1="582.1" x2="358.7" y2="582.1" stroke="#9c9c9c" stroke-width="0.7" stroke-dasharray="1.4 0.6"/>
<line x1="351.3" y1="586" x2="366" y2="586" stroke="#9c9c9c" stroke-width="0.7" stroke-dasharray="1.4 0.6"/>
<line x1="333.4" y1="589" x2="355.5" y2="589" stroke="#9c9c9c" stroke-width="0.7" stroke-dasharray="1.4 0.6"/>
<line x1="345" y1="592.7" x2="364" y2="592.7" stroke="#9c9c9c" stroke-width="0.7" stroke-dasharray="1.4 0.6"/>
<path d="M37.4,122.3 L42.7,140.5 L37.4,135.6 L32.7,140.5 Z" fill="#585858"/><path d="M37.4,134 V165.7 M37.4,181 V216.3" stroke="#585858" stroke-width="1.5"/>
<text x="33.0" y="178.3" font-size="13.7" textLength="8.9" lengthAdjust="spacingAndGlyphs" fill="#555555" style="font-weight:bold;" >N</text>
<path d="M37.2,302.9 H122 V358.3 H37.2 Z M37.2,322.2 H122 M37.2,340.3 H79.7 M79.7,322.2 V358.3" fill="none" stroke="#727272" stroke-width="0.9"/>
<text x="48.3" y="318.3" font-size="14.3" textLength="22.3" lengthAdjust="spacingAndGlyphs" fill="#555555" style="" >LGT</text>
<text x="52.2" y="336.7" font-size="14.3" textLength="12.1" lengthAdjust="spacingAndGlyphs" fill="#555555" style="" >16</text>
<text x="52.0" y="355.5" font-size="14.3" textLength="12.6" lengthAdjust="spacingAndGlyphs" fill="#555555" style="" >34</text>
<text x="92.9" y="345.7" font-size="14.3" textLength="19.7" lengthAdjust="spacingAndGlyphs" fill="#555555" style="" >NIL</text>
<path d="M33.4,453.4 H133.2 V509 H33.4 Z M33.4,472.2 H133.2 M33.4,490.6 H133.2 M87.2,472.2 V509" fill="none" stroke="#727272" stroke-width="0.9"/>
<text x="39.2" y="467.4" font-size="14.3" textLength="46.3" lengthAdjust="spacingAndGlyphs" fill="#555555" style="" >Surface</text>
<text x="40.6" y="486.3" font-size="14.3" textLength="35.7" lengthAdjust="spacingAndGlyphs" fill="#555555" style="" >Apron</text>
<text x="92.4" y="486.3" font-size="14.3" textLength="33.1" lengthAdjust="spacingAndGlyphs" fill="#555555" style="" >ASPH</text>
<text x="40.9" y="505.2" font-size="14.3" textLength="26.3" lengthAdjust="spacingAndGlyphs" fill="#555555" style="" >TWY</text>
<text x="92.4" y="505.2" font-size="14.3" textLength="33.1" lengthAdjust="spacingAndGlyphs" fill="#555555" style="" >ASPH</text>
<path d="M492.8,8.3 V57.9 H752.6 M492.8,35 H752.6 M679.9,8.3 V57.9" fill="none" stroke="#727272" stroke-width="0.9"/>
<text x="502.0" y="29.2" font-size="14.2" textLength="78.1" lengthAdjust="spacingAndGlyphs" fill="#555555" style="" >ARP WGS-84</text>
<text x="502.0" y="52.6" font-size="14.2" textLength="166.9" lengthAdjust="spacingAndGlyphs" fill="#555555" style="" >47° 10′ 18″ N / 009° 02′ 22′′ E</text>
<text x="684.6" y="29.2" font-size="14.2" textLength="62.4" lengthAdjust="spacingAndGlyphs" fill="#555555" style="font-style:italic;"  >AD ELEV ft</text>
<text x="703.7" y="52.6" font-size="14.2" textLength="26.8" lengthAdjust="spacingAndGlyphs" fill="#555555" style="font-style:italic;"  >1365</text>
<rect x="486.8" y="619.2" width="241.9" height="5.1" fill="#fdfdfd" stroke="#777" stroke-width="0.7"/>
<rect x="486.8" y="619.2" width="15.2" height="5.1" fill="#8c8c8c"/>
<rect x="517.1" y="619.2" width="15.1" height="5.1" fill="#8c8c8c"/>
<rect x="547.2" y="619.2" width="60.5" height="5.1" fill="#8c8c8c"/>
<rect x="668.1" y="619.2" width="60.6" height="5.1" fill="#8c8c8c"/>
<path d="M607.7,621.8 H668.1" stroke="#888" stroke-width="0.6" stroke-dasharray="1.5 1"/>
<line x1="486.8" y1="619.2" x2="486.8" y2="629.6" stroke="#777" stroke-width="0.8"/>
<line x1="547.2" y1="619.2" x2="547.2" y2="629.6" stroke="#777" stroke-width="0.8"/>
<line x1="607.7" y1="619.2" x2="607.7" y2="629.6" stroke="#777" stroke-width="0.8"/>
<line x1="668.1" y1="619.2" x2="668.1" y2="629.6" stroke="#777" stroke-width="0.8"/>
<line x1="728.7" y1="619.2" x2="728.7" y2="629.6" stroke="#777" stroke-width="0.8"/>
<text x="480.3" y="642.5" font-size="12.4" textLength="15.4" lengthAdjust="spacingAndGlyphs" fill="#8a8a8a" style="" >100</text>
<text x="544.6" y="642.5" font-size="12.4" textLength="5.2" lengthAdjust="spacingAndGlyphs" fill="#8a8a8a" style="" >0</text>
<text x="600.0" y="642.5" font-size="12.4" textLength="15.4" lengthAdjust="spacingAndGlyphs" fill="#8a8a8a" style="" >100</text>
<text x="660.0" y="642.5" font-size="12.4" textLength="15.8" lengthAdjust="spacingAndGlyphs" fill="#8a8a8a" style="" >200</text>
<text x="713.4" y="642.5" font-size="12.4" textLength="29.1" lengthAdjust="spacingAndGlyphs" fill="#8a8a8a" style="" >300 m</text>
<text x="586.4" y="611.2" font-size="10.3" textLength="39.3" lengthAdjust="spacingAndGlyphs" fill="#666" style="font-weight:bold;" >1:10 000</text>
<text x="18.3" y="648.3" font-size="10.2" textLength="97.6" lengthAdjust="spacingAndGlyphs" fill="#555555" style="" >COR: OBST (13/12)</text>

<rect x="5" y="805.5" width="747.5" height="54.0" fill="#ededf0"/>
<rect x="5" y="805.5" width="747.5" height="54.0" fill="url(#hatch)"/>
<line x1="5" y1="669.5" x2="752.5" y2="669.5" stroke="#666" stroke-width="1.0"/>
<line x1="5" y1="728.5" x2="752.5" y2="728.5" stroke="#666" stroke-width="1.0"/>
<line x1="5" y1="805.5" x2="752.5" y2="805.5" stroke="#666" stroke-width="1.0"/>
<line x1="5" y1="859.5" x2="752.5" y2="859.5" stroke="#666" stroke-width="1.0"/>
<line x1="5" y1="767.5" x2="161.5" y2="767.5" stroke="#666" stroke-width="1.0"/>
<line x1="257.5" y1="767.5" x2="485.5" y2="767.5" stroke="#666" stroke-width="1.0"/>
<line x1="64.5" y1="669.5" x2="64.5" y2="859.5" stroke="#666" stroke-width="1.0"/>
<line x1="161.5" y1="669.5" x2="161.5" y2="859.5" stroke="#666" stroke-width="1.0"/>
<line x1="257.5" y1="669.5" x2="257.5" y2="859.5" stroke="#666" stroke-width="1.0"/>
<line x1="485.5" y1="669.5" x2="485.5" y2="859.5" stroke="#666" stroke-width="1.0"/>
<line x1="588.5" y1="669.5" x2="588.5" y2="859.5" stroke="#666" stroke-width="1.0"/>
<line x1="371.5" y1="669.5" x2="371.5" y2="805.5" stroke="#666" stroke-width="1.0"/>

<polyline points="4.8,860 4.8,8.3 752.6,8.3 752.6,1139 7.4,1139 7.4,1000 4.8,860" fill="none" stroke="#6e6e6e" stroke-width="1.2"/>

</svg>
<table class="rwy"><colgroup><col style="width:59.5px"><col style="width:97.0px"><col style="width:96.0px"><col style="width:114.0px"><col style="width:114.0px"><col style="width:103.0px"><col style="width:164.0px"></colgroup>
<tr style="height:59.0px"><th><b><span class="sx" style="transform:scaleX(1.0667);">NR</span><br><span class="sx" style="transform:scaleX(1.0900);">&nbsp;</span></b></th><th><b><span class="sx" style="transform:scaleX(1.0911);">RWY BRG</span><br><span class="sx" style="transform:scaleX(1.0062);">TRUE/MAG</span></b></th><th><b><span class="sx" style="transform:scaleX(1.0654);">m</span></b></th><th><b><span class="sx" style="transform:scaleX(1.1027);">AVBL LEN</span><br><span class="sx" style="transform:scaleX(1.0729);">LDG</span></b></th><th><b><span class="sx" style="transform:scaleX(1.1094);">AVBL LEN</span><br><span class="sx" style="transform:scaleX(1.0739);">TKOF</span></b></th><th><b><span class="sx" style="transform:scaleX(1.1053);">Oberfläche</span><br><span class="sx" style="transform:scaleX(1.1160);">SFC</span></b></th><th><b><span class="sx" style="transform:scaleX(1.1033);">Tragfähigkeit</span><br><span class="sx" style="transform:scaleX(1.1146);">STRENGTH</span></b></th></tr>
<tr style="height:39.0px"><td><span class="sx" style="transform:scaleX(1.0233);">16</span></td><td><span class="sx" style="transform:scaleX(1.0636);">163/161</span></td><td rowspan="2" style="padding-top:1px"><span class="sx" style="transform:scaleX(1.0930);">520 x 15</span></td><td><b><span class="sx" style="transform:scaleX(1.1088);">520</span></b></td><td><b><span class="sx" style="transform:scaleX(1.1088);">470</span></b></td><td rowspan="2" class="note" style="padding-top:1.2px"><span class="sx" style="transform:scaleX(1.0352);">ASPH</span></td><td rowspan="2" style="vertical-align:top;padding-top:8.6px;line-height:21.8px"><span class="sx" style="transform:scaleX(1.1039);">MPW 2500 kg</span><br><span class="sx" style="transform:scaleX(1.0820);">0.5 MPa</span></td></tr>
<tr class="r34" style="height:38.0px"><td><span class="sx" style="transform:scaleX(1.0233);">34</span></td><td><span class="sx" style="transform:scaleX(1.0636);">343/341</span></td><td><b><span class="sx" style="transform:scaleX(1.1088);">470</span></b></td><td><b><span class="sx" style="transform:scaleX(1.1088);">520</span></b></td></tr>
<tr class="note" style="height:54.0px"><td></td><td style="line-height:17.5px;padding-top:2.4px"><span class="sx" style="transform:scaleX(1.0738);">VAR (11.5):</span><br><span class="sx" style="transform:scaleX(1.0025);">2° E</span></td><td></td><td colspan="2" style="vertical-align:top;padding-top:8.2px"><span class="sx" style="transform:scaleX(1.0664);"><span class="ar">→</span> VFR AGA 3-0, § 3</span></td><td></td><td style="vertical-align:top;padding-top:9.2px"><span class="sx" style="transform:scaleX(1.0850);"><span class="ar">→</span> VFR AGA 3-0, § 2</span></td></tr>
</table>

<div class="list">
<div class="it" style="left:30.3px;top:886.5px"><span class="n">1</span><span class="tx" style="left:34.8px"><span class="sx" style="transform:scaleX(1.0985);">Flugplatz:</span><br><span class="sx" style="transform:scaleX(1.1171);">Privat, Flugfeld, <b>PPR, nur Segelflug</b></span></span></div>
<div class="it" style="left:30.3px;top:948.6px"><span class="n">2</span><span class="tx" style="left:34.8px"><span class="sx" style="transform:scaleX(1.0950);">Lage:</span><br><span class="sx" style="transform:scaleX(1.0996);">15 km N Glarus</span></span></div>
<div class="it" style="left:31.5px;top:1010.6px"><span class="n">3</span><span class="tx" style="left:34.8px"><span class="sx" style="transform:scaleX(1.1026);">Flugplatzbezugstemperatur:</span><br><span class="sx" style="transform:scaleX(1.0950);">NIL</span></span></div>
<div class="it" style="left:31.5px;top:1072.5px"><span class="n">4</span><span class="tx" style="left:34.8px"><span class="sx" style="transform:scaleX(1.0950);">Betriebszeiten:</span><br><span class="sx" style="transform:scaleX(1.0950);">HX</span></span></div>
</div>
<div class="list">
<div class="it" style="left:390.6px;top:886.5px"><span class="n">1</span><span class="tx" style="left:35.4px"><span class="sx" style="transform:scaleX(1.1058);">Aerodrome:</span><br><span class="sx" style="transform:scaleX(1.1253);">Private, Airfield, <b>PPR, GLD only</b></span></span></div>
<div class="it" style="left:390.6px;top:948.6px"><span class="n">2</span><span class="tx" style="left:35.4px"><span class="sx" style="transform:scaleX(1.0950);">Location:</span><br><span class="sx" style="transform:scaleX(1.1147);">8.1 NM N Glarus</span></span></div>
<div class="it" style="left:390.6px;top:1010.6px"><span class="n">3</span><span class="tx" style="left:35.4px"><span class="sx" style="transform:scaleX(1.1174);">Aerodrome reference temperature:</span><br><span class="sx" style="transform:scaleX(1.0950);">NIL</span></span></div>
<div class="it" style="left:390.6px;top:1072.5px"><span class="n">4</span><span class="tx" style="left:35.4px"><span class="sx" style="transform:scaleX(1.0950);">OPR hours:</span><br><span class="sx" style="transform:scaleX(1.0950);">HX</span></span></div>
</div>

<div class="foot" style="left:8.8px;top:1150.2px"><span class="sx" style="transform:scaleX(0.9987);">13/12 DEC 13</span></div>
<div class="foot" style="left:236.3px;top:1150.2px;font-size:14.6px"><span class="sx" style="transform:scaleX(1.0156);">SKYGUIDE, CH-8602 WANGEN BEI DÜBENDORF</span></div>
<div class="foot" style="left:703.3px;top:1150.5px;font-size:14.2px"><span class="sx" style="transform:scaleX(0.9931);">LSZX 1</span></div>

</div>
</body></html>
